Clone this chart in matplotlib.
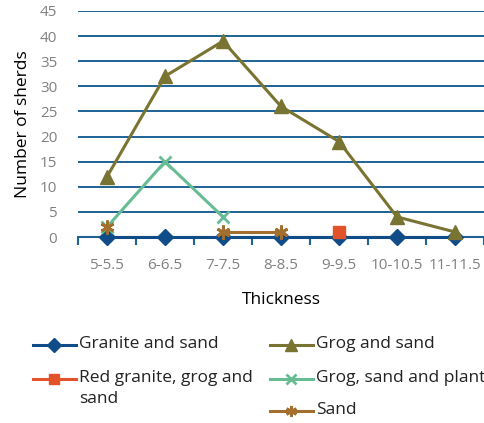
import matplotlib
matplotlib.use("Agg")
import matplotlib.pyplot as plt
from matplotlib.lines import Line2D
import numpy as np

plt.rcParams['font.family'] = ['Open Sans', 'DejaVu Sans']

categories = ["5-5.5", "6-6.5", "7-7.5", "8-8.5", "9-9.5", "10-10.5", "11-11.5"]
granite_sand = [0, 0, 0, 0, 0, 0, 0]
grog_sand = [12, 32, 39, 26, 19, 4, 1]
red_granite_grog_sand = [None, None, None, None, 1, None, None]
grog_sand_plant = [2, 15, 4, None, None, None, None]
sand = [2, None, 1, 1, None, None, None]

series = [
    ("Granite and sand", granite_sand, "#0F4C88", "D", 8.5),
    ("Grog and sand", grog_sand, "#7A7433", "^", 10),
    ("Red granite, grog and\nsand", red_granite_grog_sand, "#E2532A", "s", 8),
    ("Grog, sand and plant", grog_sand_plant, "#68BC93", "x", 9),
    ("Sand", sand, "#A36F2E", (6, 2, 0), 10),
]

fig = plt.figure(figsize=(4.85, 4.23), dpi=100)
ax = fig.add_axes([78 / 485, 1 - 237 / 423, 406 / 485, 226 / 423])

x = np.arange(len(categories))
# draw in the stacking order used by the chart
for name, vals, col, mk, ms in [series[0], series[2], series[3], series[4], series[1]]:
    y = np.array([np.nan if v is None else v for v in vals], dtype=float)
    mew = 2 if mk in ("x", (6, 2, 0)) else 1
    ax.plot(x, y, color=col, lw=2.2, marker=mk, ms=ms, mew=mew,
            mec=col, mfc=col, zorder=3, clip_on=False)

ax.set_xlim(-0.5, len(categories) - 0.5)
ax.set_ylim(0, 45)
ax.set_yticks(np.arange(0, 46, 5))
ax.yaxis.grid(True, color="#1F6296", lw=1.4)
ax.set_axisbelow(True)
for s in ["left", "right", "top"]:
    ax.spines[s].set_visible(False)
ax.spines["bottom"].set_color("#1F6296")
ax.spines["bottom"].set_linewidth(1.5)
ax.spines["bottom"].set_zorder(2.5)

ax.set_xticks(x)
ax.set_xticklabels(categories)
ax.set_xticks(np.arange(-0.5, len(categories)), minor=True)
ax.tick_params(axis="x", which="major", length=0, pad=15, labelsize=11, labelcolor="#808080")
ax.tick_params(axis="x", which="minor", length=6, width=1.5, color="#1F6296", direction="out")
ax.tick_params(axis="y", length=0, pad=15, labelsize=11, labelcolor="#808080")

ax.set_ylabel("Number of sherds", fontsize=12.5, labelpad=6)
ax.set_xlabel("Thickness", fontsize=12.5, labelpad=14)

# legend drawn as two columns in figure pixels
W, H = 485, 423
def legend_entry(x0, y0, name, col, mk, ms):
    mew = 2 if mk in ("x", (6, 2, 0)) else 1
    fig.add_artist(Line2D([x0 / W, (x0 + 43) / W], [1 - y0 / H] * 2, color=col, lw=2.2,
                          transform=fig.transFigure))
    fig.add_artist(Line2D([(x0 + 21.5) / W], [1 - y0 / H], color=col, marker=mk, ms=ms,
                          mew=mew, mec=col, mfc=col, transform=fig.transFigure))
    fig.text((x0 + 46) / W, 1 - (y0 - 9) / H, name, fontsize=12.5, va="top", ha="left",
             linespacing=1.4, color="#222222", transform=fig.transFigure)

legend_entry(33, 345, series[0][0], series[0][2], series[0][3], 7)
legend_entry(33, 379, series[2][0], series[2][2], series[2][3], 7)
legend_entry(270, 345, series[1][0], series[1][2], series[1][3], 8)
legend_entry(270, 379, series[3][0], series[3][2], series[3][3], 7)
legend_entry(270, 411, series[4][0], series[4][2], series[4][3], 8)

fig.savefig("out.png", dpi=100)
